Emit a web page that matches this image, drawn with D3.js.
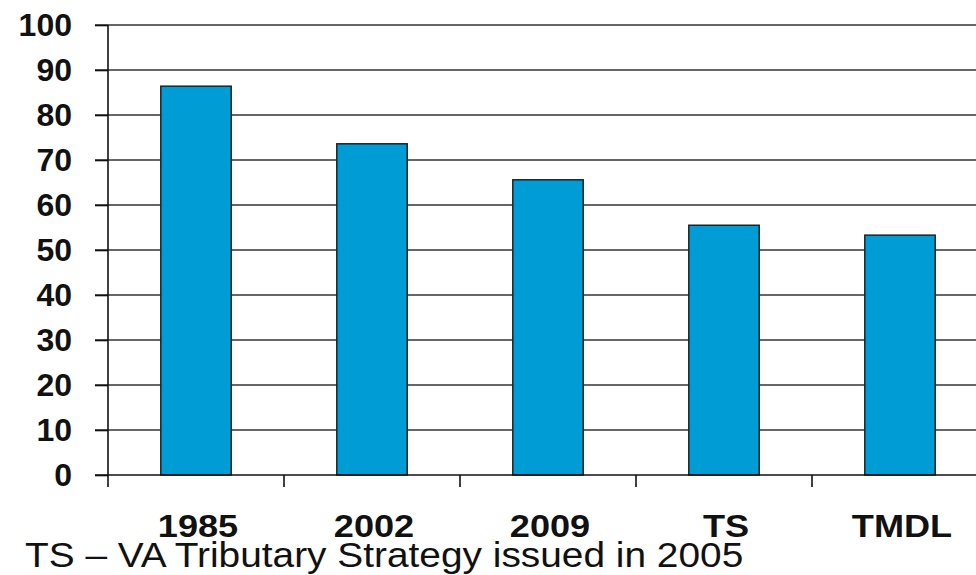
<!DOCTYPE html>
<html><head><meta charset="utf-8">
<script src="https://cdn.jsdelivr.net/npm/d3@7"></script>
<style>body{margin:0;background:#fff}svg{display:block}</style>
</head><body>
<svg id="c" width="976" height="575"></svg>
<script>
const categories = ["1985", "2002", "2009", "TS", "TMDL"];
const values = [86.4, 73.6, 65.6, 55.5, 53.3];
const yTicks = [0, 10, 20, 30, 40, 50, 60, 70, 80, 90, 100];
const footnote = "TS \u2013 VA Tributary Strategy issued in 2005";

const FONT = "Liberation Sans, Arial, sans-serif";
const svg = d3.select("#c");
const x0 = 108, x1 = 988, yTop = 25, yBot = 475;
const x = d3.scaleBand().domain(categories).range([x0, x1]).paddingInner(0.6).paddingOuter(0.3);
const xb = d3.scaleBand().domain(categories).range([x0, x1]);
const y = d3.scaleLinear().domain([0, 100]).range([yBot, yTop]);

// gridlines
svg.append("g").selectAll("line").data(yTicks.filter(d => d > 0)).join("line")
  .attr("x1", 95).attr("x2", 976).attr("y1", d => y(d)).attr("y2", d => y(d))
  .attr("stroke", "#333").attr("stroke-width", 1.6);

// bars
svg.append("g").selectAll("rect").data(values).join("rect")
  .attr("x", (d, i) => x(categories[i])).attr("width", x.bandwidth())
  .attr("y", d => y(d)).attr("height", d => y(0) - y(d))
  .attr("fill", "#009cd6").attr("stroke", "#222").attr("stroke-width", 1.5);

// y axis
const ya = svg.append("g").attr("transform", `translate(${x0},0)`)
  .call(d3.axisLeft(y).tickValues(yTicks).tickSize(13).tickPadding(23));
ya.select(".domain").attr("stroke", "#111").attr("stroke-width", 1.6).attr("d", `M0,${yTop}V${yBot}`);
ya.selectAll(".tick line").attr("stroke", "#111").attr("stroke-width", 1.6);
ya.selectAll("text").attr("font-family", FONT)
  .attr("font-weight", "bold").attr("font-size", 32).attr("fill", "#111");

// x axis
const xa = svg.append("g").attr("transform", `translate(0,${yBot})`);
xa.append("line").attr("x1", 95).attr("x2", 976).attr("stroke", "#111").attr("stroke-width", 1.6);
xa.selectAll("line.t").data(categories.concat(["_end"])).join("line").attr("class", "t")
  .attr("x1", (d, i) => x0 + i * xb.bandwidth()).attr("x2", (d, i) => x0 + i * xb.bandwidth())
  .attr("y1", 0).attr("y2", 12).attr("stroke", "#111").attr("stroke-width", 1.6);
xa.selectAll("text").data(categories).join("text")
  .attr("transform", d => `translate(${x(d) + x.bandwidth() / 2 + 2},62) scale(1.13,1)`)
  .attr("text-anchor", "middle")
  .attr("font-family", FONT)
  .attr("font-weight", "bold").attr("font-size", 32).attr("fill", "#111")
  .text(d => d);

svg.append("text").attr("transform", "translate(25,567) scale(1.11,1)")
  .attr("font-family", FONT)
  .attr("font-size", 35).attr("fill", "#111").text(footnote);
</script>
</body></html>
